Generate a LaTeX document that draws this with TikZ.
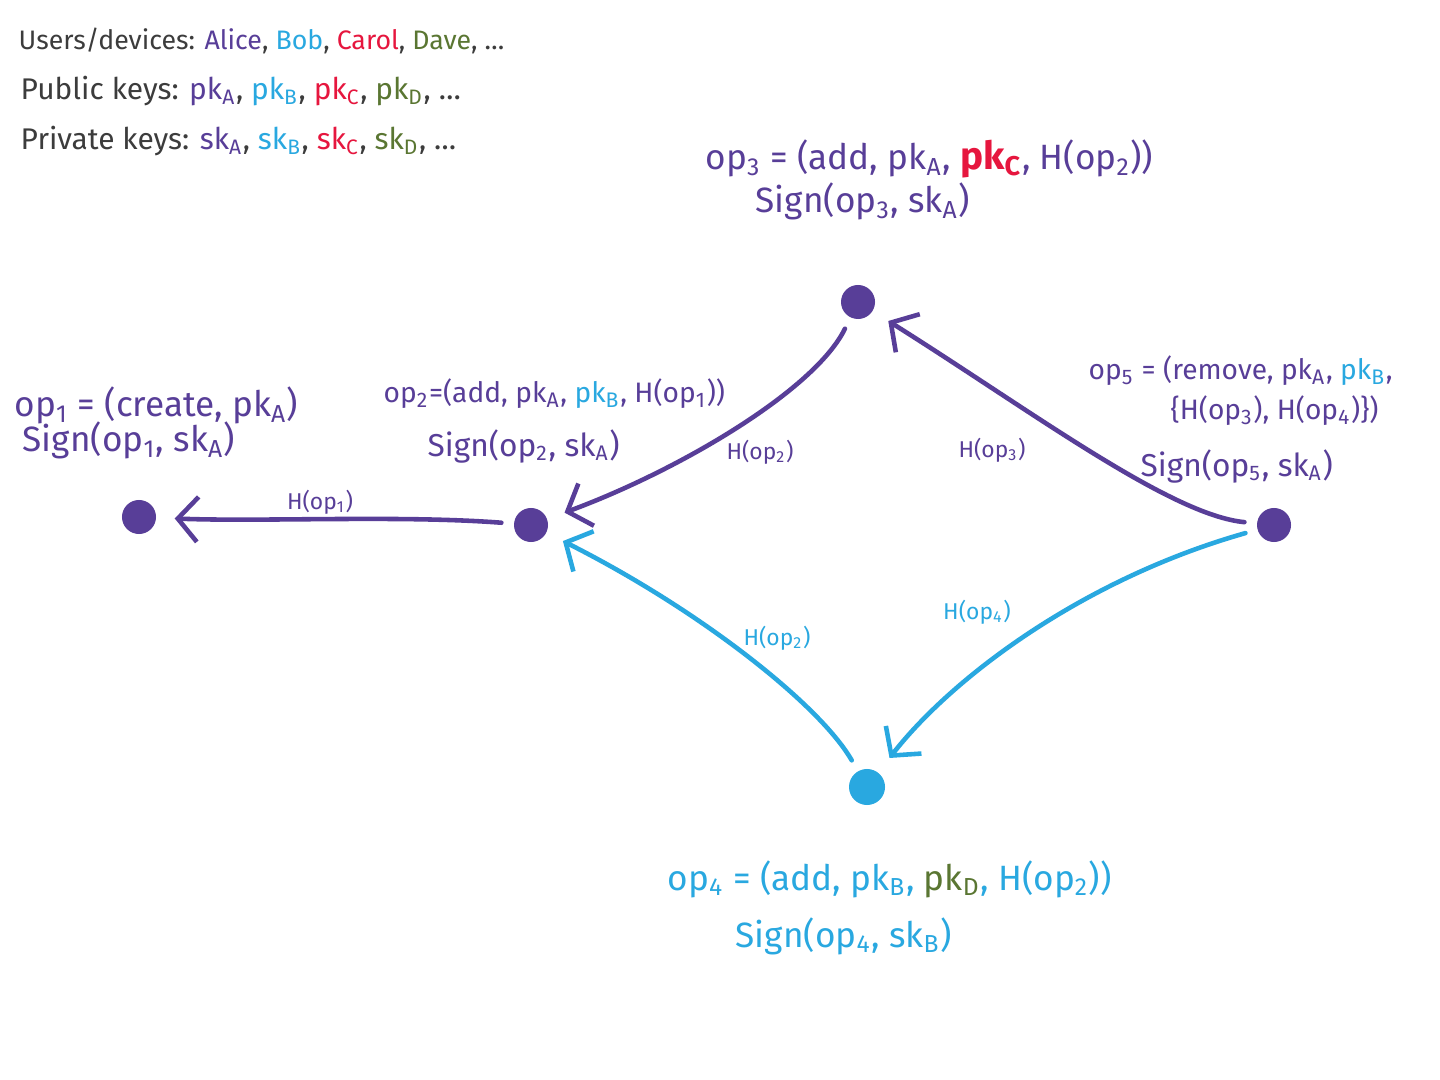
\documentclass[tikz,border=0pt]{standalone}
\usepackage{fontspec}
\setmainfont{Fira Sans}
\usetikzlibrary{arrows.meta}
\definecolor{pur}{RGB}{88,62,152}
\definecolor{blu}{RGB}{41,168,224}
\definecolor{rd}{RGB}{230,22,62}
\definecolor{grn}{RGB}{90,118,50}
\definecolor{ink}{RGB}{60,60,60}
\newcommand\Sub[1]{\textsubscript{#1}}
\newcommand\PK[2]{{\color{#1}pk\Sub{#2}}}
\newcommand\SK[2]{{\color{#1}sk\Sub{#2}}}
\begin{document}
\begin{tikzpicture}[x=0.01cm,y=-0.01cm,
  dot/.style={circle,fill,inner sep=0pt,minimum size=0.34cm},
  link/.style={line width=1.3pt,line cap=round,-{Straight Barb[length=2mm,width=4.5mm]},shorten <=0.12cm,shorten >=0.18cm},
  lbl/.style={font=\fontsize{10}{12}\selectfont,inner sep=0pt,anchor=base west},
  small/.style={font=\fontsize{8}{10}\selectfont},
  mid/.style={font=\fontsize{9}{11}\selectfont},
  elbl/.style={font=\fontsize{6.5}{8}\selectfont,inner sep=0pt},
  leg/.style={font=\fontsize{8.5}{10}\selectfont,inner sep=0pt,anchor=base west,text=ink}]
\useasboundingbox[fill=white] (0,0) rectangle (1440,1080);

% legend
\node[leg,font=\fontsize{7.6}{9}\selectfont] (leg1) at (18,50) {Users/devices: {\color{pur}Alice}, {\color{blu}Bob}, {\color{rd}Carol}, {\color{grn}Dave}, \dots};
\node[leg] (leg2) at (20,100) {Public keys: \PK{pur}{A}, \PK{blu}{B}, \PK{rd}{C}, \PK{grn}{D}, \dots};
\node[leg] (leg3) at (20,150) {Private keys: \SK{pur}{A}, \SK{blu}{B}, \SK{rd}{C}, \SK{grn}{D}, \dots};

% dots
\node[dot,pur] (n1) at (139,517) {};
\node[dot,pur] (n2) at (531,525) {};
\node[dot,pur] (n3) at (858,302) {};
\node[dot,blu,minimum size=0.36cm] (n4) at (867,787) {};
\node[dot,pur] (n5) at (1274,525) {};

% labels
\node[lbl,text=pur] (l1a) at (14,417) {op\Sub{1} = (create, pk\Sub{A})};
\node[lbl,text=pur] (l1b) at (22,452) {Sign(op\Sub{1}, sk\Sub{A})};

\node[lbl,small,text=pur] (l2a) at (383,403) {op\Sub{2}=(add, pk\Sub{A}, \PK{blu}{B}, H(op\Sub{1}))};
\node[lbl,mid,text=pur] (l2b) at (427,457) {Sign(op\Sub{2}, sk\Sub{A})};

\node[lbl,text=pur] (l3a) at (705,170) {op\Sub{3} = (add, pk\Sub{A}, {\color{rd}\bfseries\fontsize{11}{12}\selectfont pk\Sub{C}}, H(op\Sub{2}))};
\node[lbl,text=pur] (l3b) at (755,213) {Sign(op\Sub{3}, sk\Sub{A})};

\node[lbl,small,text=pur] (l5a) at (1088,380) {op\Sub{5} = (remove, pk\Sub{A}, \PK{blu}{B},};
\node[lbl,small,text=pur] (l5b) at (1170,420) {\{H(op\Sub{3}), H(op\Sub{4})\})};
\node[lbl,mid,text=pur] (l5c) at (1140,477) {Sign(op\Sub{5}, sk\Sub{A})};

\node[lbl,text=blu] (l4a) at (667,890) {op\Sub{4} = (add, pk\Sub{B}, \PK{grn}{D}, H(op\Sub{2}))};
\node[lbl,text=blu] (l4b) at (735,947) {Sign(op\Sub{4}, sk\Sub{B})};

% connectors
\draw[link,pur] (n2) .. controls (400,515) and (260,522) .. (n1);
\draw[link,pur] (n3) .. controls (815,390) and (680,470) .. (n2);
\draw[link,pur] (n5) .. controls (1170,515) and (1030,410) .. (n3);
\draw[link,blu] (n4) .. controls (820,705) and (700,610) .. (n2);
\draw[link,blu] (n5) .. controls (1080,580) and (950,680) .. (n4);

% edge labels
\node[elbl,text=pur] (e1) at (320,502) {H(op\Sub{1})};
\node[elbl,text=pur] (e2) at (760,452) {H(op\Sub{2})};
\node[elbl,text=pur] (e3) at (992,450) {H(op\Sub{3})};
\node[elbl,text=blu] (e4) at (977,612) {H(op\Sub{4})};
\node[elbl,text=blu] (e5) at (777,638) {H(op\Sub{2})};
\end{tikzpicture}
\end{document}
